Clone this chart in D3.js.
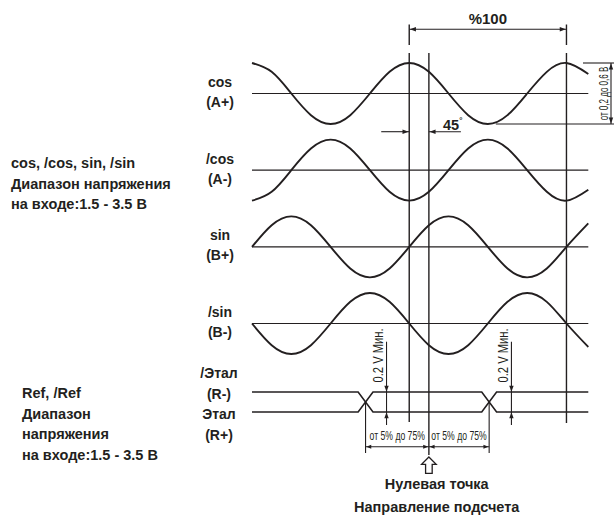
<!DOCTYPE html>
<html><head><meta charset="utf-8">
<script src="https://cdn.jsdelivr.net/npm/d3@7"></script>
<style>
body{margin:0;background:#fff}
svg{display:block}
text{font-family:"Liberation Sans",Arial,Helvetica,sans-serif;fill:#231f20}
</style></head><body>
<svg id="c" width="614" height="517"></svg>
<script>
// ---------- data ----------
const channels = ["cos", "/cos", "sin", "/sin"];
const channelSubs = ["(A+)", "(A-)", "(B+)", "(B-)"];
// key points of each waveform, phase in degrees (0 = peak of cos)
const phases = [-360,-315,-270,-225,-180,-135,-90,-45,0,45,90,135,180,225,270,315,360,410];
const cosVals    = [1,.71,0,-.71,-1,-.71,0,.71,1,.71,0,-.71,-1,-.71,0,.71,1,.64];
const ncosVals   = [-1,-.71,0,.71,1,.71,0,-.71,-1,-.71,0,.71,1,.71,0,-.71,-1,-.64];
const sinVals    = [0,.71,1,.71,0,-.71,-1,-.71,0,.71,1,.71,0,-.71,-1,-.71,0,.77];
const nsinVals   = [0,-.71,-1,-.71,0,.71,1,.71,0,-.71,-1,-.71,0,.71,1,.71,0,-.77];
const channelVals = [cosVals, ncosVals, sinVals, nsinVals];

const refNames = ["/Этал", "(R-)", "Этал", "(R+)"];
const refEdges = [-100, 183];      // phase of reference transitions
const refEdgeWidth = 34;           // degrees per transition
const guidePhases = [0, 45, 360];
const minPhases = [-52, 234];

const percentLabel = "%100";
const angleLabel = "45";
const ampLabel = "от 0,2 до 0,6 В";
const minLabel = "0.2 V Мин.";
const spanLabel = "от 5% до 75%";
const leftBlock1 = ["cos, /cos, sin, /sin", "Диапазон напряжения", "на входе:1.5 - 3.5 В"];
const leftBlock2 = ["Ref, /Ref", "Диапазон", "напряжения", "на входе:1.5 - 3.5 В"];
const bottomLabels = ["Нулевая точка", "Направление подсчета"];

// ---------- scales ----------
const INK = "#231f20";
const svg = d3.select("#c");
const x = d3.scaleLinear().domain([-360, 410]).range([252, 588.3]);
const chY = d3.scalePoint().domain(channels).range([93.5, 323.5]);
const amp = d3.scaleLinear().domain([-1, 1]).range([30.5, -30.5]);
const refY = d3.scaleLinear().domain([-1, 1]).range([412, 392]);

function arrow(g, tx, ty, dir, len = 6, half = 2.2) {
  let p;
  if (dir === "r") p = [[tx, ty], [tx - len, ty - half], [tx - len, ty + half]];
  if (dir === "l") p = [[tx, ty], [tx + len, ty - half], [tx + len, ty + half]];
  if (dir === "u") p = [[tx, ty], [tx - half, ty + len], [tx + half, ty + len]];
  if (dir === "d") p = [[tx, ty], [tx - half, ty - len], [tx + half, ty - len]];
  g.append("path").attr("d", "M" + p.join("L") + "Z").attr("fill", INK);
}
function seg(g, x1, y1, x2, y2, w = 1.1) {
  g.append("line").attr("x1", x1).attr("y1", y1).attr("x2", x2).attr("y2", y2)
    .attr("stroke", INK).attr("stroke-width", w);
}
// condensed text: horizontally squeezed via scale
function narrowText(g, tx, ty, rot, size, sx, str) {
  g.append("g").attr("transform", `translate(${tx},${ty}) rotate(${rot}) scale(${sx},1)`)
    .append("text").attr("text-anchor", "middle").attr("font-size", size).text(str);
}

// ---------- waveforms ----------
const waves = svg.append("g");
channels.forEach((c, i) => {
  const base = chY(c);
  seg(waves, x(-360), base, x(410), base, 1.2);
  const line = d3.line()
    .x(d => x(d[0]))
    .y(d => base + amp(d[1]))
    .curve(d3.curveNatural);
  waves.append("path")
    .datum(phases.map((p, k) => [p, channelVals[i][k]]))
    .attr("d", line).attr("fill", "none").attr("stroke", INK).attr("stroke-width", 1.9);
  const lg = svg.append("g").attr("font-size", 14).attr("font-weight", "bold").attr("text-anchor", "middle");
  lg.append("text").attr("x", 220).attr("y", base - 6.5).text(c);
  lg.append("text").attr("x", 220).attr("y", base + 13.5).text(channelSubs[i]);
});

// reference signals
const refPts = (s) => [
  [-360, s], [refEdges[0] - refEdgeWidth / 2, s], [refEdges[0] + refEdgeWidth / 2, -s],
  [refEdges[1] - refEdgeWidth / 2, -s], [refEdges[1] + refEdgeWidth / 2, s], [410, s]
];
const refLine = d3.line().x(d => x(d[0])).y(d => refY(d[1]));
[1, -1].forEach(s => {
  waves.append("path").datum(refPts(s)).attr("d", refLine)
    .attr("fill", "none").attr("stroke", INK).attr("stroke-width", 1.6);
});
const rl = svg.append("g").attr("font-size", 14).attr("font-weight", "bold").attr("text-anchor", "middle");
refNames.forEach((t, i) => rl.append("text").attr("x", 219).attr("y", 378 + i * 20.7).text(t));

// ---------- guides & dimensions ----------
const dim = svg.append("g");
const guideBottoms = [422, 455, 423];
guidePhases.forEach((p, i) => seg(dim, x(p), 53, x(p), guideBottoms[i], 1.4));

// %100
[0, 360].forEach(p => seg(dim, x(p), 24.5, x(p), 45, 1.4));
seg(dim, x(0), 29.3, x(360), 29.3, 1.1);
arrow(dim, x(0) + 0.7, 29.3, "l");
arrow(dim, x(360) - 0.7, 29.3, "r");
dim.append("text").attr("x", (x(0) + x(360)) / 2).attr("y", 24).attr("text-anchor", "middle")
  .attr("font-size", 15).attr("font-weight", "bold").text(percentLabel);

// 45°
seg(dim, x(0) - 28, 131.7, x(0), 131.7, 1.1);
arrow(dim, x(0) - 0.7, 131.7, "r");
seg(dim, x(45), 131.7, x(45) + 32, 131.7, 1.1);
arrow(dim, x(45) + 0.7, 131.7, "l");
const ang = dim.append("text").attr("x", 443).attr("y", 130).attr("font-size", 14.5).attr("font-weight", "bold");
ang.append("tspan").text(angleLabel);
ang.append("tspan").attr("font-size", 8).attr("dy", -7).text("°");

// amplitude
const peakY = chY("cos") + amp(1), troughY = chY("cos") + amp(-1);
seg(dim, 583, peakY, 614, peakY, 1.1);
seg(dim, x(180) + 8, troughY, 614, troughY, 1.1);
seg(dim, 611, peakY, 611, troughY, 1.1);
arrow(dim, 611, peakY + 0.5, "u");
arrow(dim, 611, troughY - 0.5, "d");
narrowText(dim, 607.5, (peakY + troughY) / 2, -90, 12, 0.67, ampLabel);

// 0.2 V min
minPhases.forEach(p => {
  const xx = x(p);
  seg(dim, xx, 341.7, xx, 425, 1.1);
  arrow(dim, xx, refY(1) - 0.3, "d");
  arrow(dim, xx, refY(-1) + 0.3, "u");
  narrowText(dim, xx - 3.3, 355.5, -90, 15, 0.745, minLabel);
});

// 5%..75% spans
const spanY = 446.7;
const spanStops = [refEdges[0], 45, refEdges[1]];
[refEdges[0], refEdges[1]].forEach(p => seg(dim, x(p), 402, x(p), 453, 1.1));
for (let k = 0; k < 2; k++) {
  const a = x(spanStops[k]), b = x(spanStops[k + 1]);
  seg(dim, a, spanY, b, spanY, 1.1);
  arrow(dim, a + 0.7, spanY, "l", 5, 2);
  arrow(dim, b - 0.7, spanY, "r", 5, 2);
  narrowText(dim, (a + b) / 2, 440, 0, 12, 0.72, spanLabel);
}

// hollow up-arrow
const ax = x(45);
dim.append("path")
  .attr("d", `M${ax},457 L${ax + 7.3},464.3 L${ax + 3.3},464.3 L${ax + 3.3},473.3 L${ax - 3.3},473.3 L${ax - 3.3},464.3 L${ax - 7.3},464.3 Z`)
  .attr("fill", "#fff").attr("stroke", INK).attr("stroke-width", 1.3);

const bl = svg.append("g").attr("font-size", 14.5).attr("font-weight", "bold").attr("text-anchor", "middle");
bottomLabels.forEach((t, i) => bl.append("text").attr("x", 436.7).attr("y", 489 + i * 23).text(t));

// ---------- left blocks ----------
const lb1 = svg.append("g").attr("font-size", 14.5).attr("font-weight", "bold");
leftBlock1.forEach((t, i) => lb1.append("text").attr("x", 11).attr("y", 168 + i * 20.5).text(t));
const lb2 = svg.append("g").attr("font-size", 14.5).attr("font-weight", "bold");
leftBlock2.forEach((t, i) => lb2.append("text").attr("x", 22).attr("y", 398 + i * 20.7).text(t));
</script>
</body></html>
